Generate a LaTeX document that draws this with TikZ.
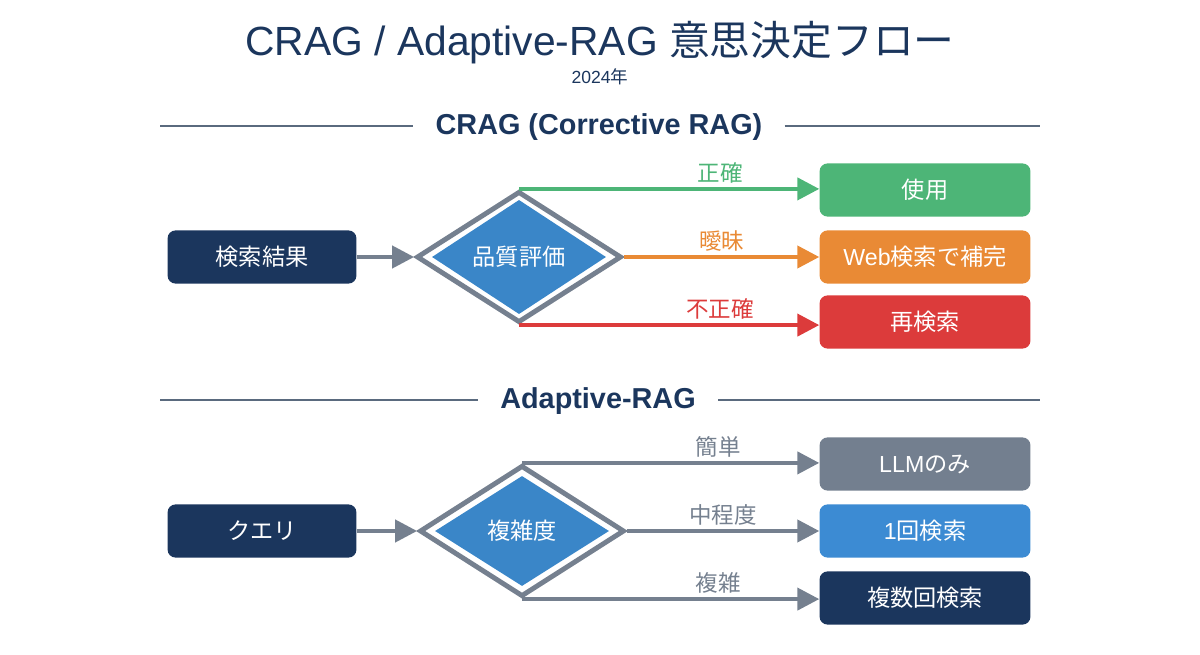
\documentclass[tikz,border=0pt]{standalone}
\usepackage{fontspec}
\setmainfont{Liberation Sans}
\newfontfamily\cjk{Noto Sans CJK JP}
\usetikzlibrary{shapes.geometric,arrows.meta,positioning}
\definecolor{navy}{HTML}{1B365D}
\definecolor{cblue}{HTML}{3A86C8}
\definecolor{cgrey}{HTML}{75808F}
\definecolor{cgreen}{HTML}{4DB577}
\definecolor{corange}{HTML}{E98A35}
\definecolor{cred}{HTML}{DC3B3B}
\definecolor{cslate}{HTML}{5A6A7E}
\definecolor{cllm}{HTML}{737F8F}
\definecolor{conce}{HTML}{3C8BD3}
\begin{document}
\begin{tikzpicture}[x=0.025cm, y=-0.025cm,
		lbox/.style={rounded corners=0.2cm, minimum width=4.72cm, minimum height=1.33cm, inner sep=0, text=white, fill=navy, font=\cjk\fontsize{16.5}{18}\selectfont},
		rbox/.style={rounded corners=0.2cm, minimum width=5.27cm, minimum height=1.33cm, inner sep=0, text=white, font=\fontsize{16.5}{18}\selectfont},
		outer/.style={diamond, draw=cgrey, line width=3.5pt, fill=white, minimum width=5.12cm, minimum height=3.28cm, inner sep=0},
		inner/.style={diamond, fill=cblue, minimum width=4.35cm, minimum height=2.75cm, inner sep=0, text=white, font=\cjk\fontsize{16.5}{18}\selectfont},
		flow/.style={line width=3pt, -{Triangle[length=0.55cm, width=0.55cm]}},
		lbl/.style={inner sep=0, font=\cjk\fontsize{16}{18}\selectfont},
		head/.style={inner xsep=0.55cm, text=navy, font=\bfseries\fontsize{20.5}{24}\selectfont},
		rule/.style={draw=cslate, line width=1.3pt}]
	\useasboundingbox (0,0) rectangle (1200,655);
	% title
	\node[text=navy, font=\fontsize{29}{32}\selectfont] (title) at (600,43) {CRAG / Adaptive-RAG {\cjk 意思決定フロー}};
	\node[text=navy, font=\fontsize{12.5}{14}\selectfont] (year) at (600,77) {2024{\cjk 年}};
	% CRAG
	\node[head] (h1) at (599,127) {CRAG (Corrective RAG)};
	\coordinate (h1l) at (160,126);
	\coordinate (h1r) at (1040,126);
	\draw[rule] (h1l) -- (h1.west |- h1l);
	\draw[rule] (h1.east |- h1r) -- (h1r);
	\node[lbox] (res) at (262,257) {検索結果};
	\node[outer] (eval) at (519,257) {};
	\node[inner] (evalin) at (519,257) {品質評価};
	\draw[flow, cgrey] (res) -- (eval);
	\foreach \n/\a/\y/\p/\c/\t/\l in {use/north/190/0.67/cgreen/{\cjk 使用}/正確, web/east/257/0.5/corange/{Web\cjk 検索で補完}/曖昧, retry/south/322/0.67/cred/{\cjk 再検索}/不正確}
		{
			\node[rbox, fill=\c] (\n) at (925,\y) {\t};
			\draw[flow, \c] (eval.\a) -- (eval.\a -| \n.west) node[lbl, pos=\p, above=0.08cm, text=\c] {\l};
		}
	% Adaptive-RAG
	\node[head] (h2) at (598,401) {Adaptive-RAG};
	\coordinate (h2l) at (160,400);
	\coordinate (h2r) at (1040,400);
	\draw[rule] (h2l) -- (h2.west |- h2l);
	\draw[rule] (h2.east |- h2r) -- (h2r);
	\node[lbox] (query) at (262,531) {クエリ};
	\node[outer] (cplx) at (522,531) {};
	\node[inner] (cplxin) at (522,531) {複雑度};
	\draw[flow, cgrey] (query) -- (cplx);
	\foreach \n/\a/\y/\p/\c/\t/\l in {llm/north/464/0.66/cllm/{LLM\cjk のみ}/簡単, once/east/531/0.5/conce/{1\cjk 回検索}/中程度, multi/south/598/0.66/navy/{\cjk 複数回検索}/複雑}
		{
			\node[rbox, fill=\c] (\n) at (925,\y) {\t};
			\draw[flow, cgrey] (cplx.\a) -- (cplx.\a -| \n.west) node[lbl, pos=\p, above=0.08cm, text=cgrey] {\l};
		}
\end{tikzpicture}
\end{document}
